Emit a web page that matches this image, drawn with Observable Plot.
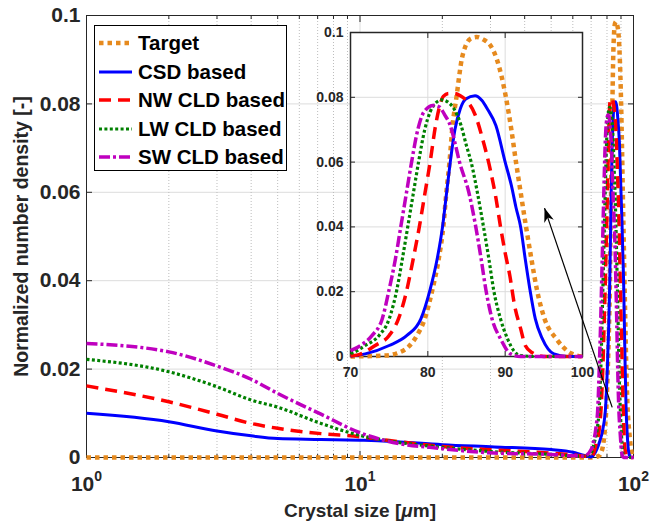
<!DOCTYPE html>
<html><head><meta charset="utf-8">
<script src="https://cdn.jsdelivr.net/npm/d3@7"></script>
<script src="https://cdn.jsdelivr.net/npm/@observablehq/plot@0.6"></script>
<style>
body{margin:0;background:#fff;}
#wrap{position:relative;width:651px;height:529px;font-family:"Liberation Sans",Arial,Helvetica,sans-serif;}
</style></head><body><div id="wrap"></div>
<script>
// ---------------- data ----------------
const seriesNames = ["Target", "CSD based", "NW CLD based", "LW CLD based", "SW CLD based"];

const targetData = [[1,0],[5,0],[20,0],[70,0],[74.5,0.0003],[76,0.0010],[77.5,0.0030],[78.6,0.0065],[79.6,0.0116],[80.6,0.0207],[81.4,0.0300],[82.0,0.0400],[82.4,0.0507],[82.8,0.0600],[83.2,0.0713],[83.7,0.0800],[84.4,0.0919],[84.9,0.0960],[85.6,0.0982],[86.3,0.0986],[87.2,0.0978],[88.1,0.0960],[88.9,0.0919],[90.1,0.0800],[90.8,0.0700],[91.4,0.0600],[92.0,0.0507],[92.7,0.0400],[93.4,0.0300],[94.1,0.0207],[95.1,0.0116],[96.6,0.0055],[98.5,0.0010],[100,0]];

const csdData = [[1,0.0100],[2,0.0081],[3,0.0060],[4,0.0049],[5,0.0043],[7.2,0.0041],[10,0.0039],[12.6,0.0037],[20,0.0029],[31,0.0024],[50,0.0018],[60,0.0012],[65,0.0006],[68,0.0003],[70,0.0001],[71.9,0.0008],[75.0,0.0034],[77.3,0.0065],[79.1,0.0116],[80.3,0.0207],[81.2,0.0300],[81.9,0.0400],[82.4,0.0500],[82.9,0.0600],[83.5,0.0700],[84.2,0.0765],[84.9,0.0795],[86.1,0.0805],[87.0,0.0790],[87.7,0.0764],[88.8,0.0713],[90.0,0.0600],[90.8,0.0528],[91.4,0.0460],[92.0,0.0400],[92.6,0.0300],[93.2,0.0207],[93.9,0.0116],[94.8,0.0055],[96.3,0.0008],[98,0],[100,0]];

const nwData = [[1,0.0162],[2,0.0126],[3,0.0098],[4,0.0077],[5,0.0066],[7.2,0.0054],[10,0.0047],[12.6,0.0039],[20,0.0025],[31,0.0017],[50,0.0010],[60,0.0006],[66,0.0003],[70,0.0002],[71,0.0005],[73.2,0.0034],[75.0,0.0065],[76.2,0.0116],[77.3,0.0207],[78.1,0.0300],[78.9,0.0400],[79.6,0.0500],[80.3,0.0600],[81.0,0.0713],[81.5,0.0770],[82.0,0.0803],[82.7,0.0812],[83.4,0.0812],[84.2,0.0805],[85.0,0.0790],[86.1,0.0747],[87.1,0.0670],[88.1,0.0574],[88.8,0.0490],[89.4,0.0400],[90.0,0.0320],[90.6,0.0250],[91.2,0.0160],[92.0,0.0086],[92.6,0.0034],[93.5,0.0012],[95,0],[100,0]];

const lwData = [[1,0.0222],[2,0.0194],[3,0.0160],[4,0.0130],[5,0.0114],[7.2,0.0077],[10,0.0050],[12.6,0.0038],[20,0.0023],[31,0.0013],[50,0.0007],[60,0.0004],[66,0.0003],[70,0.0010],[70.4,0.0013],[71.9,0.0034],[73.7,0.0065],[75.0,0.0116],[76.0,0.0207],[76.7,0.0300],[77.4,0.0400],[78.1,0.0500],[78.8,0.0600],[79.6,0.0700],[80.3,0.0755],[81.0,0.0782],[81.8,0.0792],[82.6,0.0785],[83.4,0.0764],[84.3,0.0713],[85.0,0.0650],[85.6,0.0600],[86.4,0.0507],[87.2,0.0400],[87.9,0.0300],[88.5,0.0207],[89.4,0.0116],[90.3,0.0055],[91.2,0.0015],[92.0,0.0003],[94,0],[100,0]];

const swData = [[1,0.0258],[2,0.0239],[3,0.0207],[4,0.0177],[5,0.0145],[7.2,0.0098],[10,0.0056],[12.6,0.0037],[20,0.0020],[31,0.0010],[50,0.0007],[60,0.0004],[66,0.0003],[70,0.0018],[71.3,0.0034],[72.8,0.0065],[74.1,0.0116],[75.0,0.0207],[75.8,0.0300],[76.5,0.0400],[77.2,0.0500],[77.9,0.0600],[78.7,0.0700],[79.5,0.0755],[80.7,0.0775],[81.5,0.0770],[82.2,0.0745],[82.9,0.0713],[83.5,0.0660],[84.1,0.0600],[85.3,0.0507],[86.2,0.0400],[86.9,0.0300],[87.5,0.0207],[88.3,0.0116],[89.4,0.0055],[90.7,0.0008],[92,0],[100,0]];

const seriesData = [targetData, csdData, nwData, lwData, swData];

const yTicks = [0, 0.02, 0.04, 0.06, 0.08, 0.1];
const yGrid = [0.02, 0.04, 0.06, 0.08];
const xTicksMain = [1, 10, 100];
const xMajorGrid = [10];
const xMinorMain = [2,3,4,5,6,7,8,9,20,30,40,50,60,70,80,90];
const insetXTicks = [70, 80, 90, 100];
const insetXGrid = [80, 90];
const xLabel = "Crystal size [μm]";
const yLabel = "Normalized number density [-]";
const arrowFrom = [103.84, -0.0157];   // inset data units
const arrowTo = [95.09, 0.0458];

// ---------------- styles ----------------
const seriesColors = ["#E68A1E", "#0000FF", "#FF0000", "#008000", "#BF00BF"];
const seriesWidths = [4.5, 3, 3.5, 3.2, 3.5];
const seriesDashes = ["4.5,4", null, "12,7", "3,2.4", "11,3,3,3"];
const FONT = '"Liberation Sans", Arial, Helvetica, sans-serif';
const AX = "#262626";
const fmtY = d => d === 0 ? "0" : String(d);
const blank = () => "";

const rows = [];
seriesNames.forEach((s, i) => seriesData[i].forEach(([x, y]) => rows.push({series: s, x, y})));

function seriesMarks(filter) {
  return seriesNames.map((s, i) => Plot.line(rows.filter(d => d.series === s && filter(d)), {
    x: "x", y: "y", stroke: seriesColors[i], strokeWidth: seriesWidths[i],
    strokeDasharray: seriesDashes[i] || undefined, strokeLinecap: "butt", strokeLinejoin: "round",
    curve: "monotone-x"
  }));
}

const wrap = document.getElementById("wrap");

// ---------------- main chart ----------------
const main = Plot.plot({
  width: 651, height: 529, marginLeft: 86, marginRight: 18, marginTop: 15, marginBottom: 72,
  style: {fontFamily: FONT, fontWeight: "bold", color: AX, background: "transparent", overflow: "visible"},
  x: {type: "log", domain: [1, 100], label: null},
  y: {domain: [0, 0.1], label: null},
  marks: [
    Plot.gridY(yGrid, {stroke: "#dcdcdc", strokeOpacity: 1}),
    Plot.gridX(xMajorGrid, {stroke: "#dcdcdc", strokeOpacity: 1}),
    Plot.gridX(xMinorMain, {stroke: "#bdbdbd", strokeOpacity: 1, strokeDasharray: "1,2"}),
    Plot.frame({stroke: AX, strokeWidth: 1}),
    Plot.axisY(yTicks, {anchor: "left", tickSize: -6, tickPadding: 12, fontSize: 21, tickFormat: fmtY, label: null}),
    Plot.axisY(yTicks, {anchor: "right", tickSize: -6, tickFormat: blank, label: null}),
    Plot.axisX(xTicksMain, {anchor: "bottom", tickSize: -6, tickPadding: 25, fontSize: 21, tickFormat: d => `10^${Math.round(Math.log10(d))}`, label: null}),
    Plot.axisX(xTicksMain, {anchor: "top", tickSize: -6, tickFormat: blank, label: null}),
    Plot.axisX(xMinorMain, {anchor: "bottom", tickSize: -3, tickFormat: blank, label: null}),
    Plot.axisX(xMinorMain, {anchor: "top", tickSize: -3, tickFormat: blank, label: null}),
    ...seriesMarks(() => true),
    Plot.text([xLabel], {frameAnchor: "bottom", dy: 59, fontSize: 19, fontWeight: "bold", fill: AX, textAnchor: "middle"}),
    Plot.text([yLabel], {frameAnchor: "left", dx: -65, rotate: -90, fontSize: 19.5, fontWeight: "bold", fill: AX, textAnchor: "middle"})
  ]
});
main.style.position = "absolute"; main.style.left = "0px"; main.style.top = "0px";
wrap.appendChild(main);

// superscript exponents and italic mu
d3.select(main).selectAll("text").each(function () {
  const t = this.textContent;
  const m = /^10\^(\d+)$/.exec(t);
  if (m) {
    this.textContent = "";
    const s = d3.select(this);
    s.append("tspan").text("10");
    s.append("tspan").attr("dy", -10).attr("font-size", 14).text(m[1]);
  } else if (t === xLabel) {
    this.textContent = "";
    const s = d3.select(this);
    s.append("tspan").text("Crystal size [");
    s.append("tspan").attr("font-style", "italic").text("μ");
    s.append("tspan").text("m]");
  }
});

// ---------------- inset ----------------
const IW = 351, IH = 420, IML = 50, IMR = 69, IMT = 10, IMB = 86;
const isx = d3.scaleLinear().domain([70, 100]).range([IML, IW - IMR]);
const isy = d3.scaleLinear().domain([0, 0.1]).range([IH - IMB, IMT]);
const ang = Math.atan2(isx(arrowTo[0]) - isx(arrowFrom[0]), -(isy(arrowTo[1]) - isy(arrowFrom[1])));
const headSymbol = {
  draw(ctx) {
    const pts = [[0, 0], [-5, 14], [0, 10], [5, 14]];
    const c = Math.cos(ang), s = Math.sin(ang);
    pts.forEach(([px, py], i) => {
      const rx = px * c - py * s, ry = px * s + py * c;
      if (i) ctx.lineTo(rx, ry); else ctx.moveTo(rx, ry);
    });
    ctx.closePath();
  }
};

const inset = Plot.plot({
  width: IW, height: IH, marginLeft: IML, marginRight: IMR, marginTop: IMT, marginBottom: IMB,
  style: {fontFamily: FONT, fontWeight: "bold", color: AX, background: "transparent", overflow: "visible"},
  x: {domain: [70, 100], label: null},
  y: {domain: [0, 0.1], label: null},
  marks: [
    Plot.frame({fill: "white"}),
    Plot.gridX(insetXGrid, {stroke: "#dcdcdc", strokeOpacity: 1}),
    Plot.gridY(yGrid, {stroke: "#dcdcdc", strokeOpacity: 1}),
    Plot.frame({stroke: AX, strokeWidth: 1.5}),
    Plot.axisY(yTicks, {anchor: "left", tickSize: -5, tickPadding: 12, fontSize: 14, tickFormat: fmtY, label: null}),
    Plot.axisY(yTicks, {anchor: "right", tickSize: -5, tickFormat: blank, label: null}),
    Plot.axisX(insetXTicks, {anchor: "bottom", tickSize: -5, tickPadding: 16, fontSize: 14, label: null}),
    Plot.axisX(insetXTicks, {anchor: "top", tickSize: -5, tickFormat: blank, label: null}),
    ...seriesMarks(d => d.x >= 70),
    Plot.link([{a: arrowFrom, b: arrowTo}], {x1: d => d.a[0], y1: d => d.a[1], x2: d => d.b[0], y2: d => d.b[1], stroke: "black", strokeWidth: 1.2}),
    Plot.dot([arrowTo], {x: d => d[0], y: d => d[1], symbol: headSymbol, fill: "black", stroke: "none", r: 6})
  ]
});
inset.style.position = "absolute"; inset.style.left = "300px"; inset.style.top = "22px";
wrap.appendChild(inset);

// ---------------- legend ----------------
const leg = d3.select(wrap).append("div")
  .style("position", "absolute").style("left", "94px").style("top", "25px")
  .style("width", "193px").style("height", "146px").style("box-sizing", "border-box")
  .style("border", "1px solid #000").style("background", "#fff");
seriesNames.forEach((name, i) => {
  const row = leg.append("div")
    .style("position", "absolute").style("left", "4px").style("top", `${3 + i * 28.5}px`)
    .style("height", "28px").style("display", "flex").style("align-items", "center");
  const sv = row.append("svg").attr("width", 33).attr("height", 10).style("display", "block");
  sv.append("line").attr("x1", 0).attr("x2", 33).attr("y1", 5).attr("y2", 5)
    .attr("stroke", seriesColors[i]).attr("stroke-width", seriesWidths[i])
    .attr("stroke-dasharray", seriesDashes[i] || null);
  row.append("span").text(name)
    .style("margin-left", "6px").style("font-size", "20.5px").style("font-weight", "bold")
    .style("color", "#000").style("white-space", "nowrap");
});
</script>
</body></html>
